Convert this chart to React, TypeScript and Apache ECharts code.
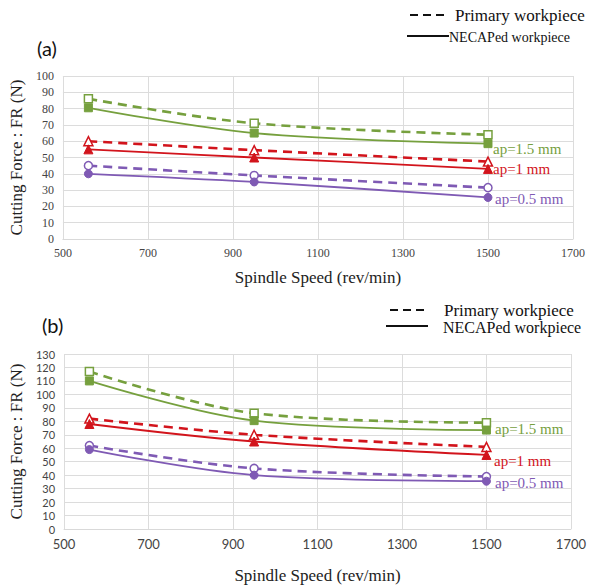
import React, { useEffect, useRef } from "react";
import * as echarts from "echarts";

const speeds = [560, 950, 1500];
const xTicks = [500, 700, 900, 1100, 1300, 1500, 1700];

// Chart (a)
const aPrimary15 = [86, 71, 64];
const aNecap15 = [80.5, 65, 58.5];
const aPrimary1 = [60, 54.5, 47.5];
const aNecap1 = [55, 50, 43];
const aPrimary05 = [45, 39, 31.5];
const aNecap05 = [40, 35, 25.5];

// Chart (b)
const bPrimary15 = [117, 86, 79];
const bNecap15 = [110, 80.5, 73.5];
const bPrimary1 = [82, 70, 61];
const bNecap1 = [78, 65, 55];
const bPrimary05 = [62, 45, 39];
const bNecap05 = [59, 40, 35.5];

const seriesNames = ["ap=1.5 mm", "ap=1 mm", "ap=0.5 mm"];
const legendNames = ["Primary workpiece", "NECAPed workpiece"];

const GREEN = "#76A03E";
const RED = "#D2141C";
const PURPLE = "#7F5AB4";

const SERIF = "'Liberation Serif', 'DejaVu Serif', serif";
const SANS = "Lato, 'Open Sans', 'Liberation Sans', sans-serif";

function pts(vals: number[]) {
  return vals.map((v, i) => [speeds[i], v]);
}

function mkSeries(vals: number[], idx: number, color: string, symbol: string, dashed: boolean) {
  return {
    type: "line",
    xAxisIndex: idx,
    yAxisIndex: idx,
    data: pts(vals),
    smooth: 0.35,
    symbol,
    symbolSize: symbol === "triangle" ? 9 : 8,
    lineStyle: dashed
      ? { color, width: 2.6, type: [9, 6] }
      : { color, width: 1.8, type: "solid" },
    itemStyle: dashed
      ? { color: "#ffffff", borderColor: color, borderWidth: 1.5 }
      : { color, borderColor: color, borderWidth: 1 },
    z: dashed ? 3 : 4,
  };
}

export default function App() {
  const ref = useRef<HTMLDivElement>(null);
  useEffect(() => {
    if (!ref.current) return;
    const chart = echarts.init(ref.current, null, { renderer: "svg" });

    const xAxisBase = (idx: number, labelFont: string, labelSize: number, nameGap: number) => ({
      type: "value",
      gridIndex: idx,
      min: 500,
      max: 1700,
      interval: 200,
      name: "Spindle Speed (rev/min)",
      nameLocation: "middle",
      nameGap,
      nameTextStyle: { fontFamily: SERIF, fontSize: 17, color: "#222" },
      axisLine: { show: true, lineStyle: { color: "#D9D9D9", width: 1 } },
      axisTick: { show: false },
      axisLabel: {
        fontFamily: labelFont,
        fontSize: labelSize,
        color: "#444",
        margin: 8,
        formatter: (v: number) => String(v),
      },
      splitLine: { show: true, lineStyle: { color: "#DCDCDC", width: 1 } },
    });

    const yAxisBase = (idx: number, max: number, labelFont: string, labelSize: number) => ({
      type: "value",
      gridIndex: idx,
      min: 0,
      max,
      interval: 10,
      name: "Cutting Force : FR (N)",
      nameLocation: "middle",
      nameGap: 36,
      nameTextStyle: { fontFamily: SERIF, fontSize: 17, color: "#222" },
      axisLine: { show: false },
      axisTick: { show: false },
      axisLabel: {
        fontFamily: labelFont,
        fontSize: labelSize,
        lineHeight: 11,
        color: "#444",
        margin: 9,
      },
      splitLine: { show: true, lineStyle: { color: "#DCDCDC", width: 1 } },
    });

    const txt = (x: number, y: number, text: string, size: number, color: string, font: string) => ({
      type: "text",
      x,
      y,
      z: 100,
      style: { text, fontSize: size, fill: color, fontFamily: font, textVerticalAlign: "middle" },
    });

    const legendGraphics = (dashY: number, solidY: number, dx1: number, dx2: number, sx1: number, sx2: number, tx1: number, tx2: number, fs1: number, fs2: number) => [
      {
        type: "line",
        shape: { x1: dx1, y1: dashY, x2: dx2, y2: dashY },
        style: { stroke: "#111", lineWidth: 2.2, lineDash: [8, 5] },
      },
      {
        type: "line",
        shape: { x1: sx1, y1: solidY, x2: sx2, y2: solidY },
        style: { stroke: "#111", lineWidth: 2.2 },
      },
      txt(tx1, dashY, legendNames[0], fs1, "#111", SERIF),
      txt(tx2, solidY + 1, legendNames[1], fs2, "#111", SERIF),
    ];

    const option = {
      animation: false,
      backgroundColor: "#ffffff",
      grid: [
        { left: 62, top: 76, width: 511, height: 163 },
        { left: 62, top: 354, width: 511, height: 175 },
      ],
      xAxis: [xAxisBase(0, SERIF, 12, 30), xAxisBase(1, SANS, 13, 38)],
      yAxis: [yAxisBase(0, 100, SERIF, 12), yAxisBase(1, 130, SANS, 11)],
      series: [
        mkSeries(aPrimary15, 0, GREEN, "rect", true),
        mkSeries(aNecap15, 0, GREEN, "rect", false),
        mkSeries(aPrimary1, 0, RED, "triangle", true),
        mkSeries(aNecap1, 0, RED, "triangle", false),
        mkSeries(aPrimary05, 0, PURPLE, "circle", true),
        mkSeries(aNecap05, 0, PURPLE, "circle", false),
        mkSeries(bPrimary15, 1, GREEN, "rect", true),
        mkSeries(bNecap15, 1, GREEN, "rect", false),
        mkSeries(bPrimary1, 1, RED, "triangle", true),
        mkSeries(bNecap1, 1, RED, "triangle", false),
        mkSeries(bPrimary05, 1, PURPLE, "circle", true),
        mkSeries(bNecap05, 1, PURPLE, "circle", false),
      ],
      graphic: [
        txt(37, 48, "(a)", 20, "#111", SANS),
        txt(42, 325, "(b)", 20, "#111", SANS),
        ...legendGraphics(15, 36, 410, 447, 407, 449, 455, 449, 17, 14),
        ...legendGraphics(310, 326, 390, 427, 386, 428, 444, 443, 17, 16),
        txt(493, 149, seriesNames[0], 15, GREEN, SERIF),
        txt(493, 169, seriesNames[1], 15, RED, SERIF),
        txt(495, 199, seriesNames[2], 15, PURPLE, SERIF),
        txt(495, 429, seriesNames[0], 15, GREEN, SERIF),
        txt(494, 461, seriesNames[1], 15, RED, SERIF),
        txt(495, 483, seriesNames[2], 15, PURPLE, SERIF),
      ],
    };
    chart.setOption(option as any);
    return () => chart.dispose();
  }, []);
  return (
    <div
      ref={ref}
      style={{ position: "absolute", left: 0, top: 0, width: 589, height: 585, background: "#fff" }}
    />
  );
}
